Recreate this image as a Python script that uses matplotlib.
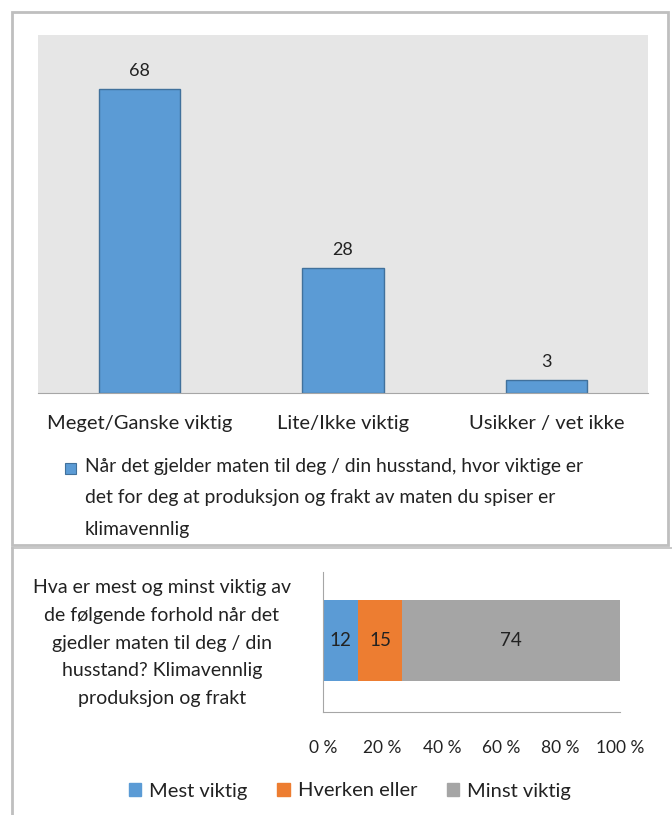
import matplotlib
matplotlib.use("Agg")
import matplotlib.pyplot as plt
from matplotlib.patches import Rectangle, Patch
import numpy as np

plt.rcParams['font.family'] = ['Lato', 'DejaVu Sans']

# top chart data
categories = ["Meget/Ganske viktig", "Lite/Ikke viktig", "Usikker / vet ikke"]
values = [68, 28, 3]
series_label = ("Når det gjelder maten til deg / din husstand, hvor viktige er\n"
                "det for deg at produksjon og frakt av maten du spiser er\n"
                "klimavennlig")

# bottom chart data
question = ("Hva er mest og minst viktig av\nde følgende forhold når det\n"
            "gjedler maten til deg / din\nhusstand? Klimavennlig\nproduksjon og frakt")
stack_names = ["Mest viktig", "Hverken eller", "Minst viktig"]
stack_values = [12, 15, 74]
stack_colors = ["#5b9bd5", "#ed7d31", "#a5a5a5"]
pct_ticks = [0, 20, 40, 60, 80, 100]

W, H = 672, 815
fig = plt.figure(figsize=(W / 100, H / 100), dpi=100)


def fx(px):
    return px / W


def fy(py):
    return 1 - py / H


# frames around the two chart panels
frame_col = "#bfbfbf"
fig.patches.append(Rectangle((fx(12), fy(545)), fx(656), fy(12) - fy(545),
                             transform=fig.transFigure, fill=False,
                             edgecolor=frame_col, lw=2))
fig.add_artist(plt.Line2D([fx(12), fx(12)], [fy(548), 0], transform=fig.transFigure,
                          color=frame_col, lw=2))
fig.add_artist(plt.Line2D([fx(12), fx(672)], [fy(548), fy(548)], transform=fig.transFigure,
                          color=frame_col, lw=1.2))

# ---- top column chart
ax = fig.add_axes([fx(38), fy(393), fx(610), fy(35) - fy(393)])
ax.set_facecolor("#e6e6e6")
x = np.arange(len(categories))
bars = ax.bar(x, values, width=0.4, color="#5b9bd5", edgecolor="#41719c", lw=1)
for b, v in zip(bars, values):
    ax.annotate(str(v), (b.get_x() + b.get_width() / 2, b.get_height()),
                xytext=(0, 7), textcoords="offset points", ha="center", va="bottom",
                fontsize=13, color="#222222")
ax.set_xlim(-0.5, len(categories) - 0.5)
ax.set_ylim(0, 80)
ax.set_yticks([])
ax.set_xticks(x)
ax.set_xticklabels(categories, fontsize=14.5, color="#222222")
ax.tick_params(axis="x", length=0, pad=16)
for s in ["top", "left", "right"]:
    ax.spines[s].set_visible(False)
ax.spines["bottom"].set_color("#a6a6a6")

# legend for top chart
fig.patches.append(Rectangle((fx(65), fy(474)), fx(11), fy(463) - fy(474),
                             transform=fig.transFigure, facecolor="#5b9bd5",
                             edgecolor="#41719c", lw=0.8))
fig.text(fx(85), fy(458), series_label, ha="left", va="top", fontsize=13.9,
         color="#222222", linespacing=2.02)

# ---- bottom stacked bar chart
ax2 = fig.add_axes([fx(323), fy(712), fx(297), fy(572) - fy(712)])
total = sum(stack_values)
left = 0
for name, v, c in zip(stack_names, stack_values, stack_colors):
    w = v / total * 100
    ax2.barh(0, w, left=left, height=1.0, color=c, label=name)
    ax2.text(left + w / 2, 0, str(v), ha="center", va="center", fontsize=13.5,
             color="#222222")
    left += w
ax2.set_xlim(0, 100)
ax2.set_ylim(-0.88, 0.85)
ax2.set_yticks([])
ax2.set_xticks(pct_ticks)
ax2.set_xticklabels([f"{t} %" for t in pct_ticks], fontsize=12.5, color="#222222")
ax2.tick_params(axis="x", length=0, pad=20)
for s in ["top", "right"]:
    ax2.spines[s].set_visible(False)
ax2.spines["left"].set_color("#a6a6a6")
ax2.spines["bottom"].set_color("#a6a6a6")

fig.text(fx(162), fy(643), question, ha="center", va="center", multialignment="center",
         fontsize=14, color="#222222", linespacing=1.78)

handles = [Patch(color=c) for c in stack_colors]
fig.legend(handles, stack_names, loc="center", bbox_to_anchor=(fx(350), fy(791)),
           ncol=3, frameon=False, fontsize=14.5, handlelength=0.6, handleheight=0.6,
           handletextpad=0.4, columnspacing=1.5, labelcolor="#222222")

fig.savefig("out.png", dpi=100)
